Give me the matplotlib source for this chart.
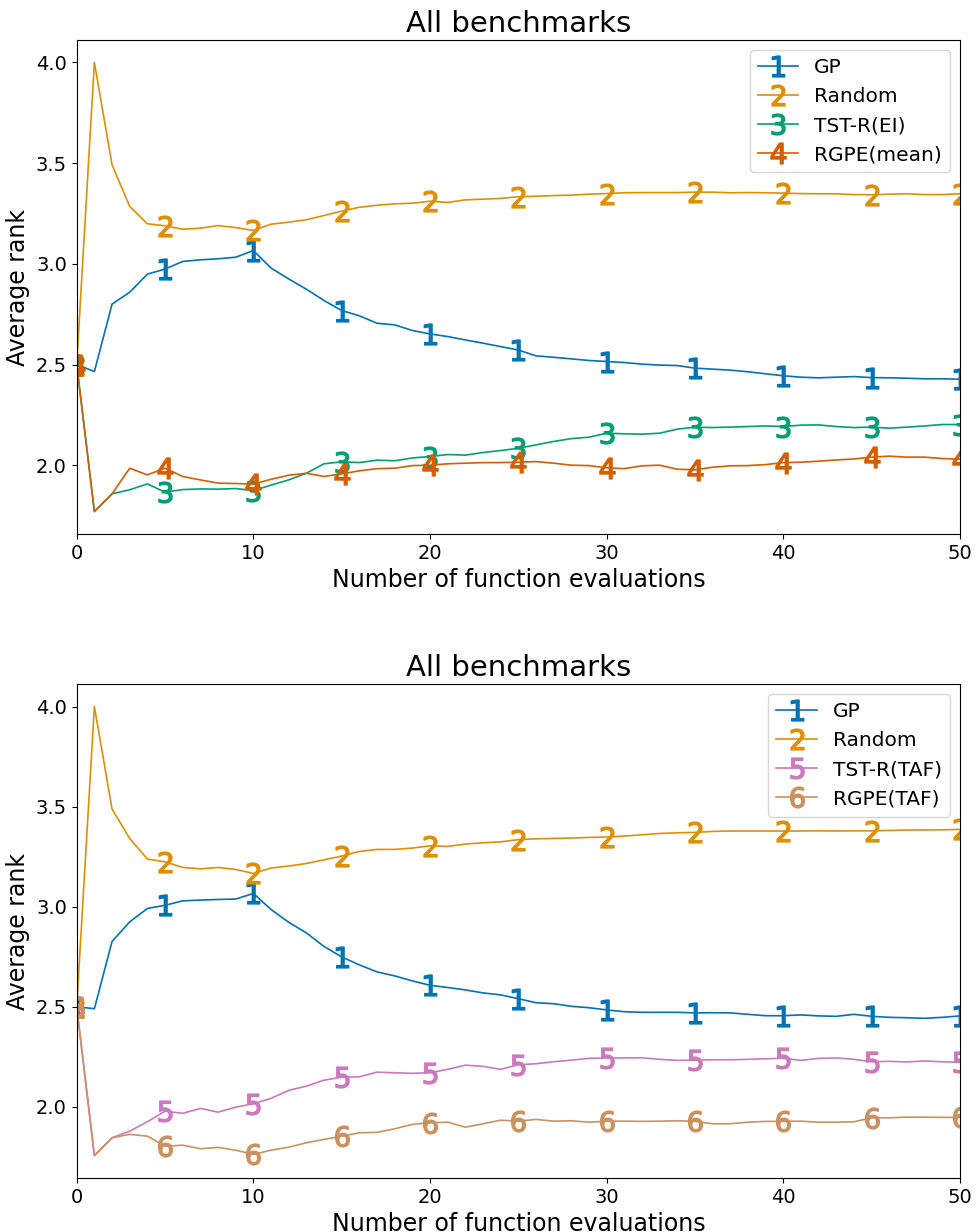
import numpy as np
import matplotlib
matplotlib.use("Agg")
import matplotlib.pyplot as plt

# values, one per function evaluation 0..50
evals = list(range(51))

gp_top = [2.5, 2.465, 2.80, 2.859, 2.949, 2.974, 3.012, 3.020, 3.025, 3.033,
          3.066, 2.979, 2.925, 2.874, 2.818, 2.768, 2.742, 2.705, 2.697, 2.669,
          2.652, 2.639, 2.622, 2.606, 2.589, 2.572, 2.543, 2.536, 2.528, 2.520,
          2.515, 2.510, 2.502, 2.497, 2.495, 2.482, 2.477, 2.472, 2.464, 2.454,
          2.444, 2.437, 2.434, 2.437, 2.440, 2.435, 2.434, 2.432, 2.429, 2.429,
          2.427]
random_top = [2.5, 4.0, 3.492, 3.285, 3.199, 3.189, 3.172, 3.177, 3.190, 3.180,
              3.166, 3.197, 3.207, 3.219, 3.240, 3.262, 3.281, 3.291, 3.298, 3.301,
              3.311, 3.305, 3.318, 3.321, 3.325, 3.333, 3.336, 3.339, 3.341, 3.346,
              3.349, 3.353, 3.354, 3.354, 3.354, 3.356, 3.356, 3.353, 3.354, 3.353,
              3.351, 3.349, 3.348, 3.348, 3.344, 3.343, 3.346, 3.348, 3.344, 3.344,
              3.348]
tstr_ei = [2.5, 1.770, 1.858, 1.878, 1.907, 1.866, 1.879, 1.882, 1.881, 1.884,
           1.874, 1.901, 1.927, 1.960, 2.007, 2.017, 2.013, 2.025, 2.022, 2.036,
           2.043, 2.053, 2.050, 2.063, 2.073, 2.084, 2.101, 2.118, 2.132, 2.139,
           2.159, 2.156, 2.154, 2.159, 2.179, 2.189, 2.187, 2.189, 2.192, 2.195,
           2.192, 2.199, 2.200, 2.192, 2.187, 2.189, 2.184, 2.189, 2.195, 2.202,
           2.202]
rgpe_mean = [2.5, 1.770, 1.858, 1.985, 1.952, 1.985, 1.944, 1.927, 1.911, 1.909,
             1.906, 1.930, 1.950, 1.960, 1.944, 1.957, 1.972, 1.983, 1.985, 1.998,
             2.000, 2.007, 2.010, 2.013, 2.013, 2.015, 2.018, 2.010, 2.000, 1.998,
             1.987, 1.983, 1.997, 2.000, 1.980, 1.977, 1.990, 1.997, 1.998, 2.003,
             2.013, 2.015, 2.020, 2.026, 2.031, 2.040, 2.045, 2.040, 2.040, 2.033,
             2.030]

gp_bot = [2.5, 2.490, 2.826, 2.924, 2.991, 3.007, 3.029, 3.033, 3.036, 3.038,
          3.066, 2.986, 2.922, 2.869, 2.801, 2.749, 2.709, 2.674, 2.654, 2.629,
          2.607, 2.596, 2.584, 2.569, 2.559, 2.540, 2.520, 2.515, 2.502, 2.495,
          2.484, 2.475, 2.472, 2.472, 2.472, 2.469, 2.470, 2.469, 2.462, 2.455,
          2.455, 2.459, 2.454, 2.452, 2.462, 2.452, 2.447, 2.445, 2.442, 2.447,
          2.454]
random_bot = [2.5, 4.0, 3.488, 3.341, 3.238, 3.224, 3.196, 3.189, 3.196, 3.186,
              3.166, 3.193, 3.203, 3.216, 3.234, 3.253, 3.276, 3.286, 3.286, 3.293,
              3.304, 3.301, 3.313, 3.319, 3.324, 3.335, 3.339, 3.341, 3.343, 3.346,
              3.348, 3.353, 3.359, 3.366, 3.369, 3.371, 3.376, 3.378, 3.378, 3.378,
              3.378, 3.378, 3.379, 3.378, 3.379, 3.379, 3.381, 3.383, 3.383, 3.384,
              3.386]
tstr_taf = [2.5, 1.756, 1.845, 1.878, 1.925, 1.978, 1.967, 1.992, 1.973, 1.998,
            2.015, 2.042, 2.082, 2.103, 2.133, 2.148, 2.150, 2.173, 2.170, 2.167,
            2.170, 2.187, 2.208, 2.202, 2.187, 2.210, 2.215, 2.225, 2.233, 2.242,
            2.244, 2.244, 2.245, 2.237, 2.232, 2.233, 2.235, 2.235, 2.237, 2.240,
            2.242, 2.232, 2.242, 2.244, 2.237, 2.225, 2.227, 2.224, 2.229, 2.225,
            2.222]
rgpe_taf = [2.5, 1.756, 1.845, 1.862, 1.853, 1.803, 1.808, 1.790, 1.797, 1.783,
            1.762, 1.783, 1.798, 1.820, 1.837, 1.853, 1.870, 1.872, 1.890, 1.912,
            1.920, 1.923, 1.898, 1.915, 1.933, 1.928, 1.937, 1.928, 1.930, 1.923,
            1.928, 1.928, 1.927, 1.928, 1.930, 1.927, 1.915, 1.915, 1.923, 1.927,
            1.927, 1.928, 1.923, 1.923, 1.925, 1.945, 1.945, 1.948, 1.948, 1.947,
            1.947]

colors = {"1": "#0173b2", "2": "#de8f05", "3": "#029e73",
          "4": "#d55e00", "5": "#cc78bc", "6": "#ca9161"}

panels = [
    [("1", "GP", gp_top), ("2", "Random", random_top),
     ("3", "TST-R(EI)", tstr_ei), ("4", "RGPE(mean)", rgpe_mean)],
    [("1", "GP", gp_bot), ("2", "Random", random_bot),
     ("5", "TST-R(TAF)", tstr_taf), ("6", "RGPE(TAF)", rgpe_taf)],
]

fig, axes = plt.subplots(2, 1, figsize=(9.76, 12.32), dpi=100)
plt.subplots_adjust(left=0.0786, right=0.9836, top=0.9675, bottom=0.0438, hspace=0.304)

for ax, series in zip(axes, panels):
    for num, name, vals in series:
        ax.plot(evals, vals, color=colors[num], lw=1.2,
                marker="$%s$" % num, markersize=15, markevery=5,
                label=name)
    ax.set_xlim(0, 50)
    ax.set_title("All benchmarks", fontsize=21)
    ax.set_xlabel("Number of function evaluations", fontsize=17)
    ax.set_ylabel("Average rank", fontsize=17)
    ax.tick_params(labelsize=14)
    ax.set_yticks([2.0, 2.5, 3.0, 3.5, 4.0])
    ax.legend(loc="upper right", fontsize=14.5)

plt.savefig("out.png", dpi=100)
